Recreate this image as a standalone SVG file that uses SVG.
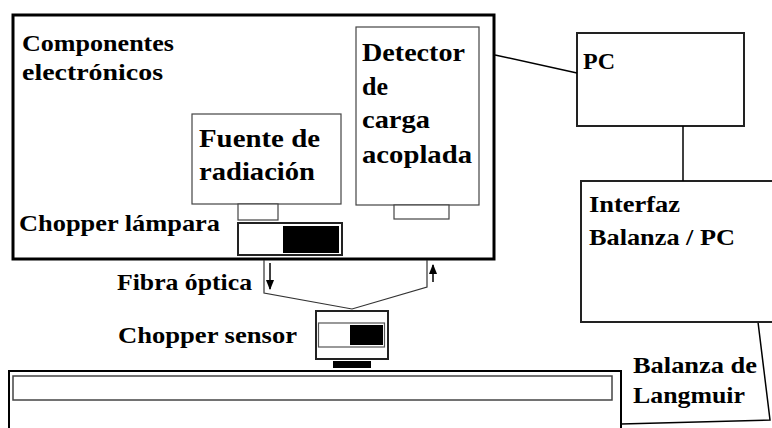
<svg xmlns="http://www.w3.org/2000/svg" width="772" height="428" viewBox="0 0 772 428">
<style>
text{font-family:"Liberation Serif","DejaVu Serif","Times New Roman",serif;font-weight:bold;fill:#000}
.a{font-size:23px}
.b{font-size:26px}
.thin{fill:#fff;stroke:#444;stroke-width:1.2}
.med{fill:#fff;stroke:#222;stroke-width:2}
.thick{fill:#fff;stroke:#000;stroke-width:3}
.ln{fill:none;stroke:#000;stroke-width:1.5}
.fib{fill:none;stroke:#333;stroke-width:1.2}
</style>
<defs>
<marker id="ah" viewBox="0 0 10 10" refX="9" refY="5" markerWidth="7" markerHeight="7" orient="auto"><path d="M0,1 L10,5 L0,9 z" fill="#000"/></marker>
</defs>
<rect width="772" height="428" fill="#fff"/>

<g id="trough">
<path d="M9,428 V371 H621 V428" fill="#fff" stroke="#000" stroke-width="2"/>
<rect x="13" y="376" width="599" height="24" fill="#fff" stroke="#444" stroke-width="1.5"/>
</g>

<g id="balanza">
<path d="M621,424 L770,420 L758,322" class="ln"/>
<text class="a" x="633" y="373" textLength="124" lengthAdjust="spacingAndGlyphs">Balanza de</text>
<text class="a" x="633" y="403" textLength="112" lengthAdjust="spacingAndGlyphs">Langmuir</text>
</g>

<g id="componentes">
<rect x="13" y="15" width="481" height="244" class="thick"/>
<text class="a" x="22" y="51" textLength="152" lengthAdjust="spacingAndGlyphs">Componentes</text>
<text class="a" x="22" y="80" textLength="141" lengthAdjust="spacingAndGlyphs">electrónicos</text>
</g>

<g id="detector">
<rect x="356" y="27" width="123" height="178" class="thin"/>
<rect x="394" y="205" width="55" height="14" class="thin"/>
<text class="b" x="362" y="61" textLength="103" lengthAdjust="spacingAndGlyphs">Detector</text>
<text class="b" x="362" y="95" textLength="26" lengthAdjust="spacingAndGlyphs">de</text>
<text class="b" x="362" y="128" textLength="68" lengthAdjust="spacingAndGlyphs">carga</text>
<text class="b" x="362" y="163" textLength="110" lengthAdjust="spacingAndGlyphs">acoplada</text>
</g>

<g id="fuente">
<rect x="192" y="114" width="149" height="90" class="thin"/>
<rect x="238" y="204" width="40" height="16" class="thin"/>
<text class="b" x="199" y="147" textLength="121" lengthAdjust="spacingAndGlyphs">Fuente de</text>
<text class="b" x="199" y="180" textLength="116" lengthAdjust="spacingAndGlyphs">radiación</text>
</g>

<g id="chopper-lampara">
<rect x="238" y="223" width="104" height="32" class="med"/>
<rect x="283" y="226" width="56" height="27" fill="#000"/>
<text class="a" x="19" y="231" textLength="201" lengthAdjust="spacingAndGlyphs">Chopper lámpara</text>
</g>

<g id="chopper-sensor">
<rect x="316" y="311" width="72" height="48" class="med"/>
<rect x="318.5" y="323" width="66" height="24" fill="#fff" stroke="#555" stroke-width="1.2"/>
<rect x="350" y="325" width="33" height="20" fill="#000"/>
<rect x="333" y="361" width="38" height="7" fill="#000"/>
<text class="a" x="118" y="343" textLength="179" lengthAdjust="spacingAndGlyphs">Chopper sensor</text>
</g>

<g id="pc">
<rect x="577" y="33" width="167" height="93" class="med"/>
<text class="a" x="583" y="69" textLength="32" lengthAdjust="spacingAndGlyphs">PC</text>
</g>

<g id="interfaz">
<rect x="581" y="181" width="200" height="141" class="med"/>
<text class="a" x="589" y="212" textLength="91" lengthAdjust="spacingAndGlyphs">Interfaz</text>
<text class="a" x="589" y="245" textLength="146" lengthAdjust="spacingAndGlyphs">Balanza / PC</text>
</g>

<g id="connectors">
<path d="M495,55 L577,73" class="ln"/>
<path d="M683,126 V181" class="ln"/>
<path d="M264,260 V293 L352,309 L427,287 V260" class="fib"/>
<path d="M270,263 V289" class="ln" marker-end="url(#ah)"/>
<path d="M433,282 V265" class="ln" marker-end="url(#ah)"/>
<text class="a" x="117" y="290" textLength="135" lengthAdjust="spacingAndGlyphs">Fibra óptica</text>
</g>
</svg>
